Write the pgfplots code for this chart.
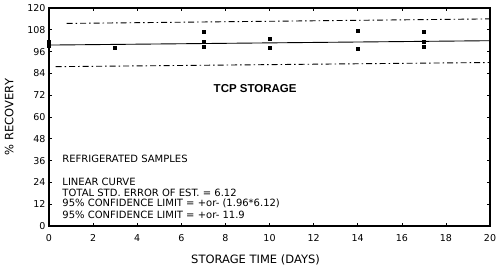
\documentclass[border=0pt]{standalone}
\usepackage{pgfplots}
\pgfplotsset{compat=1.18}
\usepackage{fontspec}
\setmainfont{DejaVu Sans}
\newfontfamily\arialfont{Liberation Sans}
\begin{document}
\begin{tikzpicture}[x=1pt,y=1pt]
\begin{axis}[
  at={(49pt,47pt)}, anchor=south west,
  scale only axis, width=441pt, height=218pt,
  xmin=0, xmax=20, ymin=0, ymax=120,
  xtick={0,2,...,20}, ytick={0,12,...,120},
  /pgf/number format/assume math mode=true,
  tick label style={font=\fontsize{9.5}{10}\selectfont},
  xticklabel style={yshift=-5pt},
  label style={font=\fontsize{11.5}{12}\selectfont},
  xlabel={STORAGE TIME (DAYS)},
  ylabel={\% RECOVERY},
  xlabel style={yshift=-6pt, xshift=-14pt},
  ylabel style={yshift=7pt},
  axis line style={line width=1.2pt},
  tick style={black, line width=0.6pt},
  major tick length=3pt,
  clip=false,
]
% regression line
\addplot[black, line width=0.9pt] coordinates {(0,99.6) (20,102.0)};
% confidence limits
\addplot[black, line width=0.9pt, dash pattern=on 6pt off 3pt on 1.5pt off 3pt] coordinates {(0.8,111.5) (20,114.0)};
\addplot[black, line width=0.9pt, dash pattern=on 6pt off 3pt on 1.5pt off 3pt] coordinates {(0.3,87.7) (20,90.0)};
% data
\addplot[only marks, mark=square*, mark size=1.5pt, black] coordinates {
 (0,101.5) (0,99.0)
 (3,98.0)
 (7,106.8) (7,101.3) (7,98.5)
 (10,103.0) (10,98.0)
 (14,107.3) (14,97.4)
 (17,106.8) (17,101.3) (17,98.5)
};
\node[font=\arialfont\fontsize{11.5}{12}\selectfont\bfseries] at (axis cs:9.35,75.4) {TCP STORAGE};
\node[anchor=west, font=\fontsize{10}{11}\selectfont] at (axis cs:0.45,37) {REFRIGERATED SAMPLES};
\node[anchor=west, font=\fontsize{10}{11}\selectfont] at (axis cs:0.45,24.4) {LINEAR CURVE};
\node[anchor=west, font=\fontsize{10}{11}\selectfont] at (axis cs:0.45,18.3) {TOTAL STD. ERROR OF EST. = 6.12};
\node[anchor=west, font=\fontsize{10}{11}\selectfont] at (axis cs:0.45,12.2) {95\% CONFIDENCE LIMIT = +or- (1.96*6.12)};
\node[anchor=west, font=\fontsize{10}{11}\selectfont] at (axis cs:0.45,6.1) {95\% CONFIDENCE LIMIT = +or- 11.9};
\end{axis}
\path (0,0) rectangle (500,273);
\end{tikzpicture}
\end{document}
